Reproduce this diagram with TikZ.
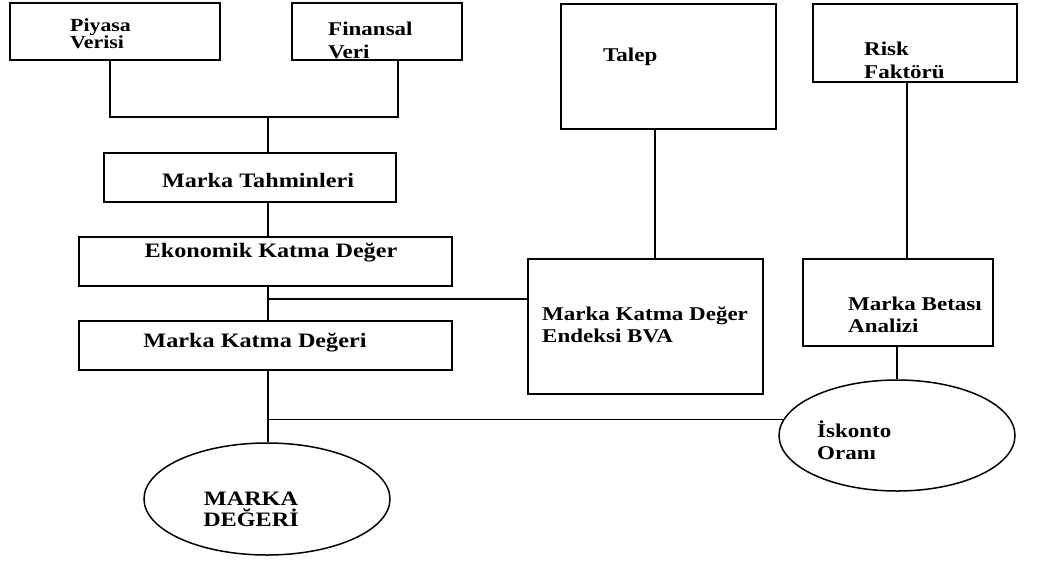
\documentclass[tikz,border=0pt]{standalone}
\usepackage{fontspec}
\setmainfont[FakeStretch=1.18]{Liberation Serif}
\usetikzlibrary{shapes.geometric}
\begin{document}
\begin{tikzpicture}[x=1pt,y=-1pt,
  box/.style={draw, rectangle, line width=1.8pt, inner sep=0pt},
  oval/.style={draw, ellipse, line width=1.5pt, inner sep=0pt},
  link/.style={line width=1.5pt},
  lbl/.style={inner sep=0pt, align=left, font=\bfseries\fontsize{19.5}{22}\selectfont},
  lblwide/.style={inner sep=0pt, align=center, font=\bfseries\fontsize{20.5}{21}\selectfont}]
\fill[white] (0,0) rectangle (1058,560);
\useasboundingbox (0,0) rectangle (1058,560);

% boxes
\node[box, minimum width=210pt, minimum height=57pt] (piy) at (115,31.5) {};
\node[box, minimum width=170pt, minimum height=57pt] (fin) at (377,31.5) {};
\node[box, minimum width=215pt, minimum height=125pt] (tal) at (668.5,66.5) {};
\node[box, minimum width=204pt, minimum height=78pt] (risk) at (915,43) {};
\node[box, minimum width=292pt, minimum height=49pt] (tah) at (250,177.5) {};
\node[box, minimum width=373pt, minimum height=49pt] (eko) at (265.5,261.5) {};
\node[box, minimum width=373pt, minimum height=49pt] (mkd) at (265.5,345.5) {};
\node[box, minimum width=235pt, minimum height=135pt] (bva) at (645.5,326.5) {};
\node[box, minimum width=190pt, minimum height=87pt] (mbeta) at (898,302.5) {};
\node[oval, minimum width=236pt, minimum height=111pt] (isk) at (897,435.5) {};
\node[oval, minimum width=246pt, minimum height=112pt] (md) at (267,499) {};

% labels
\node[lbl, anchor=west, font=\bfseries\fontsize{18.5}{17}\selectfont] (piyT) at (70,33.5) {Piyasa\\Verisi};
\node[lbl, anchor=west, font=\bfseries\fontsize{19.5}{23}\selectfont] (finT) at (328,40.5) {Finansal\\Veri};
\node[lbl, anchor=west] (talT) at (603,57) {Talep};
\node[lbl, anchor=west, font=\bfseries\fontsize{19.5}{23}\selectfont] (riskT) at (864,60.5) {Risk\\Faktörü};
\node[lblwide] (tahT) at (258,180) {Marka Tahminleri};
\node[lblwide] (ekoT) at (271,253) {Ekonomik Katma Değer};
\node[lblwide] (mkdT) at (255,343) {Marka Katma Değeri};
\node[lbl, anchor=west] (bvaT) at (542,325) {Marka Katma Değer\\Endeksi BVA};
\node[lbl, anchor=west] (mbetaT) at (848,315) {Marka Betası\\Analizi};
\node[lbl, anchor=west] (iskT) at (817,440) {İskonto\\Oranı};
\node[lblwide] (mdT) at (251,509.5) {MARKA\\DEĞERİ};

% connectors
\coordinate (j1) at (268,117);
\coordinate (j2) at (267.5,299);
\draw[link] ([xshift=-5pt]piy.south) |- (j1) -| ([xshift=21pt]fin.south);
\draw[link] (j1) -- (j1 |- tah.north);
\draw[link] (tah.south -| j1) -- (eko.north -| j1);
\draw[link] (eko.south -| j1) -- (mkd.north -| j1);
\draw[link] (j2) -- (j2 -| bva.west);
\draw[link] (mkd.south -| j1) -- (md.north -| j1);
\coordinate (j3) at (j1 |- isk.172);
\draw[link] (j3) -- (isk.172);
\draw[link] ([xshift=-13.5pt]tal.south) -- ([xshift=-13.5pt]tal.south |- bva.north);
\draw[link] ([xshift=-8pt]risk.south) -- ([xshift=-8pt]risk.south |- mbeta.north);
\draw[link] (mbeta.south -| isk.north) -- (isk.north);
\end{tikzpicture}
\end{document}
